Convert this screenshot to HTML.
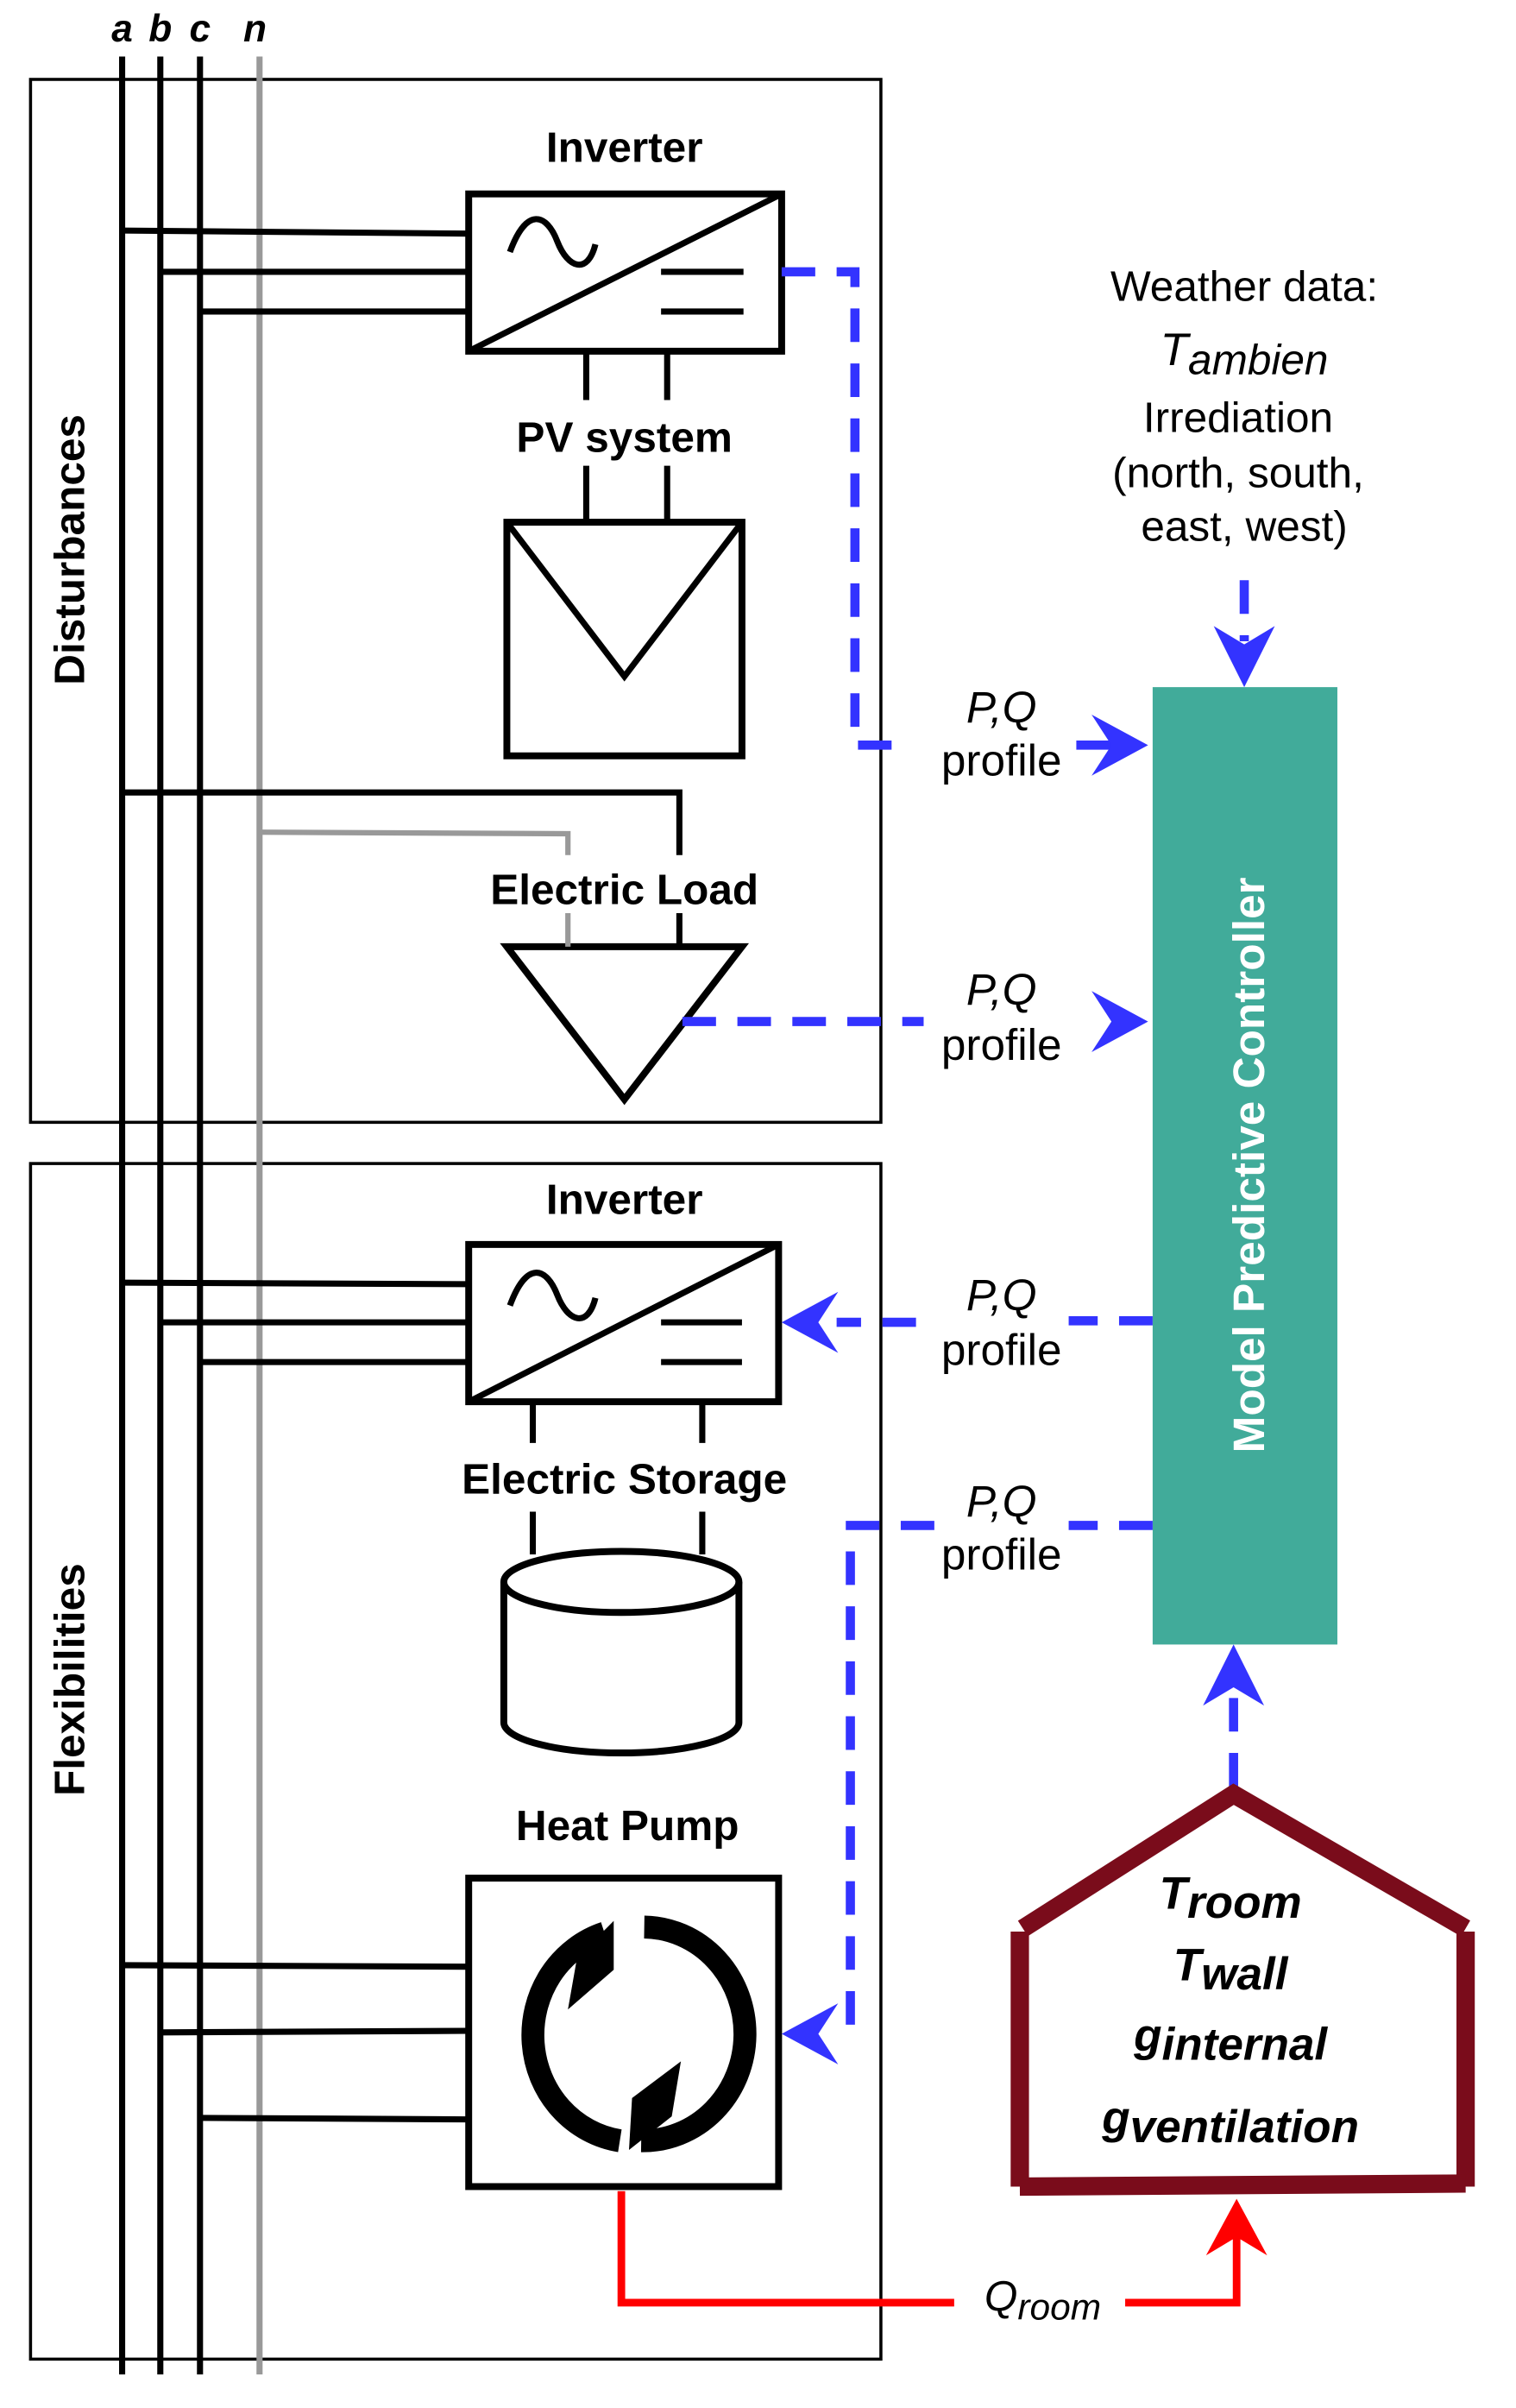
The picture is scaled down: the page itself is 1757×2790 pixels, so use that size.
<!DOCTYPE html>
<html><head><meta charset="utf-8"><style>html,body{margin:0;padding:0;background:#fff}svg{display:block}</style></head>
<body>
<svg width="1757" height="2790" viewBox="0 0 993 1577" preserveAspectRatio="none" xmlns="http://www.w3.org/2000/svg" font-family="Liberation Sans, Arial, sans-serif">
<g fill="none" stroke="#000" stroke-width="2">
<rect x="20" y="52" width="557" height="683"/>
<rect x="20" y="762" width="557" height="783"/>
</g>
<g stroke="#000" stroke-width="4" fill="none">
<line x1="80" y1="37" x2="80" y2="1555"/>
<line x1="105" y1="37" x2="105" y2="1555"/>
<line x1="131" y1="37" x2="131" y2="1555"/>
</g>
<line x1="170" y1="37" x2="170" y2="1555" stroke="#999" stroke-width="4"/>
<g font-weight="bold" font-style="italic" font-size="25" text-anchor="middle">
<text x="80" y="27">a</text><text x="105" y="27">b</text><text x="131" y="27">c</text><text x="167" y="27">n</text>
</g>
<g font-weight="bold" font-size="28" text-anchor="middle">
<text x="409" y="106">Inverter</text>
<text x="409" y="296">PV system</text>
<text x="409" y="592">Electric Load</text>
<text x="409" y="795">Inverter</text>
<text x="409" y="978">Electric Storage</text>
<text x="411" y="1205">Heat Pump</text>
<text transform="translate(55,360) rotate(-90)">Disturbances</text>
<text transform="translate(55,1100) rotate(-90)">Flexibilities</text>
</g>
<g stroke="#000" stroke-width="4" fill="none">
<line x1="80" y1="151" x2="307" y2="153"/>
<line x1="105" y1="178" x2="307" y2="178"/>
<line x1="131" y1="204" x2="307" y2="204"/>
<rect x="307" y="127" width="205" height="103" stroke-width="4.5"/>
<line x1="307" y1="230" x2="512" y2="127"/>
<path d="M334 165 C345 135,358 140,365 158 C372 176,385 180,390 160"/>
<line x1="433" y1="178" x2="487" y2="178"/>
<line x1="433" y1="204" x2="487" y2="204"/>
<line x1="384" y1="230" x2="384" y2="262"/><line x1="437" y1="230" x2="437" y2="262"/>
<line x1="384" y1="305" x2="384" y2="342"/><line x1="437" y1="305" x2="437" y2="342"/>
<rect x="332" y="342" width="154" height="153" stroke-width="4.5"/>
<polyline points="332,342 409,443 486,342"/>
<polyline points="80,519 445,519 445,560"/>
<line x1="445" y1="598" x2="445" y2="620"/>
<polygon points="332,620 486,620 409,720" stroke-width="4.5"/>
<line x1="80" y1="840" x2="307" y2="841"/>
<line x1="105" y1="866" x2="307" y2="866"/>
<line x1="131" y1="892" x2="307" y2="892"/>
<rect x="307" y="815" width="203" height="103" stroke-width="4.5"/>
<line x1="307" y1="918" x2="510" y2="815"/>
<path d="M334 855 C345 825,358 830,365 848 C372 866,385 870,390 850"/>
<line x1="433" y1="866" x2="486" y2="866"/>
<line x1="433" y1="892" x2="486" y2="892"/>
<line x1="349" y1="918" x2="349" y2="945"/><line x1="460" y1="918" x2="460" y2="945"/>
<line x1="349" y1="990" x2="349" y2="1018"/><line x1="460" y1="990" x2="460" y2="1018"/>
<path d="M330 1036 L330 1128 A77 20 0 0 0 484 1128 L484 1036" stroke-width="4.5"/>
<ellipse cx="407" cy="1036" rx="77" ry="20" stroke-width="4.5"/>
<line x1="80" y1="1287" x2="307" y2="1288"/>
<line x1="105" y1="1331" x2="307" y2="1330"/>
<line x1="131" y1="1387" x2="307" y2="1388"/>
<rect x="307" y="1230" width="203" height="202" stroke-width="4.5"/>
</g>
<polyline points="170,545 372,546 372,560" fill="none" stroke="#999" stroke-width="3.5"/>
<line x1="372" y1="598" x2="372" y2="620" stroke="#999" stroke-width="3.5"/>
<!-- circular arrows -->
<g fill="none" stroke="#000" stroke-width="15">
<path d="M396 1266 A67 70 0 0 0 406 1402"/>
<path d="M422 1262 A67 70 0 0 1 420 1402"/>
</g>
<polygon points="402,1258 402,1290 372,1316 378,1282" fill="#000"/>
<polygon points="412,1408 414,1374 446,1350 440,1386" fill="#000"/>
<!-- MPC -->
<rect x="755" y="450" width="121" height="627" fill="#41ab9a"/>
<text transform="translate(828,763) rotate(-90)" text-anchor="middle" font-weight="bold" font-size="29" fill="#fff">Model Predictive Controller</text>
<g font-size="28" text-anchor="middle">
<text x="815" y="197">Weather data:</text>
<text x="815" y="239" font-style="italic"><tspan font-size="30">T</tspan><tspan dy="6">ambien</tspan></text>
<text x="811" y="283">Irrediation</text>
<text x="811" y="319">(north, south,</text>
<text x="815" y="354">east, west)</text>
</g>
<g font-size="29" text-anchor="middle">
<text x="656" y="473" font-style="italic">P,Q</text><text x="656" y="508">profile</text>
<text x="656" y="658" font-style="italic">P,Q</text><text x="656" y="694">profile</text>
<text x="656" y="858" font-style="italic">P,Q</text><text x="656" y="894">profile</text>
<text x="656" y="993" font-style="italic">P,Q</text><text x="656" y="1028">profile</text>
</g>
<g stroke="#3333ff" stroke-width="6" fill="none" stroke-dasharray="22 14">
<polyline points="512,178 560,178 560,488 590,488"/>
<line x1="447" y1="669" x2="605" y2="669"/>
<line x1="755" y1="865" x2="700" y2="865"/>
<line x1="600" y1="866" x2="548" y2="866"/>
<line x1="755" y1="999" x2="700" y2="999"/>
<polyline points="612,999 557,999 557,1326"/>
<line x1="815" y1="380" x2="815" y2="420"/>
<line x1="808" y1="1170" x2="808" y2="1105"/>
</g>
<line x1="705" y1="488" x2="735" y2="488" stroke="#3333ff" stroke-width="6"/>
<g fill="#3333ff">
<polygon points="752,488 715,468 728,488 715,508"/>
<polygon points="752,669 715,649 728,669 715,689"/>
<polygon points="512,866 549,846 536,866 549,886"/>
<polygon points="512,1332 549,1312 536,1332 549,1352"/>
<polygon points="815,450 795,410 815,422 835,410"/>
<polygon points="808,1077 788,1117 808,1105 828,1117"/>
</g>
<g stroke="#7a0c1b" stroke-width="12" fill="none">
<polyline points="670,1263 808,1175 960,1263"/>
<line x1="668" y1="1265" x2="668" y2="1432"/>
<line x1="960" y1="1265" x2="960" y2="1432"/>
<line x1="668" y1="1432" x2="960" y2="1430"/>
</g>
<g font-weight="bold" font-style="italic" font-size="30" text-anchor="middle">
<text x="806" y="1250">T<tspan dy="6">room</tspan></text>
<text x="806" y="1297">T<tspan dy="6">wall</tspan></text>
<text x="806" y="1343">g<tspan dy="6">internal</tspan></text>
<text x="806" y="1397">g<tspan dy="6">ventilation</tspan></text>
</g>
<polyline points="407,1435 407,1508 625,1508" fill="none" stroke="#ff0000" stroke-width="5"/>
<polyline points="737,1508 810,1508 810,1460" fill="none" stroke="#ff0000" stroke-width="5"/>
<polygon points="810,1440 790,1477 810,1465 830,1477" fill="#ff0000"/>
<text x="683" y="1513" font-size="28" text-anchor="middle" font-style="italic">Q<tspan dy="6" font-size="24">room</tspan></text>
</svg>
</body></html>
